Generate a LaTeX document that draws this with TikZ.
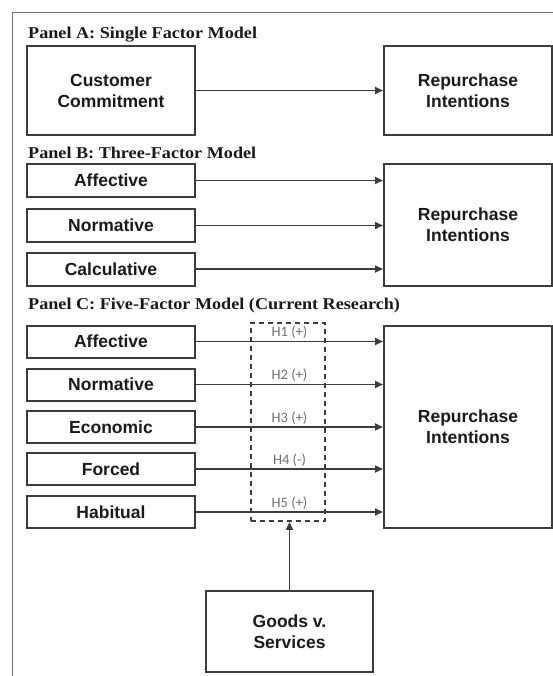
\documentclass[tikz,border=0pt]{standalone}
\usepackage{fontspec}
\usepackage{graphicx}
\setmainfont{Liberation Serif}
\newfontfamily\lsans{Liberation Sans}
\newfontfamily\hfont{Carlito}
\usetikzlibrary{arrows.meta}
\definecolor{linec}{HTML}{3c3c3c}
\definecolor{framec}{HTML}{707070}
\definecolor{labc}{HTML}{707070}
\definecolor{txt}{HTML}{1a1a1a}
\tikzset{
 box/.style={draw=linec, line width=2pt, rectangle, inner sep=0pt, align=center, text=txt,
   font=\lsans\bfseries\fontsize{17.5}{21}\selectfont},
 conn/.style={draw=linec, line width=1.9pt, -{Triangle[length=8pt,width=7pt]}},
 ptitle/.style={anchor=base west, inner sep=0pt, text=txt, font=\bfseries\fontsize{16.5}{18}\selectfont},
 hyp/.style={above, inner sep=2pt, text=labc, font=\hfont\fontsize{14.5}{14.5}\selectfont},
 dashbox/.style={draw=linec, line width=1.8pt, dash pattern=on 5pt off 4pt, rectangle, inner sep=0pt},
 frameline/.style={draw=framec, line width=1.5pt}
}
\begin{document}
\begin{tikzpicture}[x=1pt,y=-1pt]
\useasboundingbox (0,0) rectangle (553,676);
\fill[white] (0,0) rectangle (553,676);
\draw[frameline] (12.3,676) -- (12.3,12.3) -- (553,12.3);

% Panel A
\node[ptitle] (tA) at (28,39) {\scalebox{1.1}[1]{Panel A: Single Factor Model}};
\node[box, minimum width=168pt, minimum height=89pt] (cc) at (111,90.5) {Customer\\Commitment};
\node[box, minimum width=168pt, minimum height=89pt] (rA) at (468,90.5) {Repurchase\\Intentions};
\draw[conn] (cc) -- (rA);

% Panel B
\node[ptitle] (tB) at (28,159) {\scalebox{1.1}[1]{Panel B: Three-Factor Model}};
\node[box, minimum width=168pt, minimum height=33pt] (bA) at (111,180.5) {Affective};
\node[box, minimum width=168pt, minimum height=33pt] (bN) at (111,225.5) {Normative};
\node[box, minimum width=168pt, minimum height=33pt] (bC) at (111,269) {Calculative};
\node[box, minimum width=168pt, minimum height=122pt] (rB) at (468,225) {Repurchase\\Intentions};
\draw[conn] (bA.east) -- (bA.east -| rB.west);
\draw[conn] (bN.east) -- (bN.east -| rB.west);
\draw[conn] (bC.east) -- (bC.east -| rB.west);

% Panel C
\node[ptitle] (tC) at (28,309) {\scalebox{1.1}[1]{Panel C: Five-Factor Model (Current Research)}};
\node[box, minimum width=168pt, minimum height=32pt] (cA) at (111,341.5) {Affective};
\node[box, minimum width=168pt, minimum height=32pt] (cN) at (111,384.5) {Normative};
\node[box, minimum width=168pt, minimum height=32pt] (cE) at (111,427) {Economic};
\node[box, minimum width=168pt, minimum height=32pt] (cF) at (111,469) {Forced};
\node[box, minimum width=168pt, minimum height=32pt] (cH) at (111,512) {Habitual};
\node[box, minimum width=168pt, minimum height=202pt] (rC) at (468,427) {Repurchase\\Intentions};
\node[dashbox, minimum width=74pt, minimum height=198pt] (db) at (288,422) {};
\draw[conn] (cA.east) -- node[hyp] {H1 (+)} (cA.east -| rC.west);
\draw[conn] (cN.east) -- node[hyp] {H2 (+)} (cN.east -| rC.west);
\draw[conn] (cE.east) -- node[hyp] {H3 (+)} (cE.east -| rC.west);
\draw[conn] (cF.east) -- node[hyp] {H4 (-)} (cF.east -| rC.west);
\draw[conn] (cH.east) -- node[hyp] {H5 (+)} (cH.east -| rC.west);

\node[box, minimum width=167pt, minimum height=81pt] (gs) at (289.5,631.5) {Goods v.\\Services};
\draw[conn] (gs.north) -- (gs.north |- db.south);
\end{tikzpicture}
\end{document}
